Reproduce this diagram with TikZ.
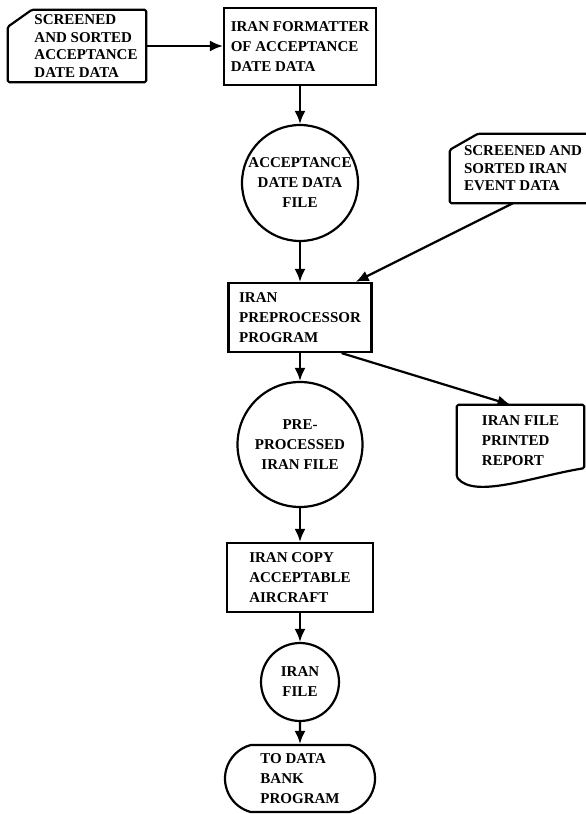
\documentclass[tikz,border=0pt]{standalone}
\usepackage{fontspec}
\setmainfont{Liberation Serif}
\usetikzlibrary{arrows.meta,shapes.misc}
\begin{document}
\begin{tikzpicture}[x=1pt,y=-1pt,
  every node/.style={font=\fontsize{15}{20}\selectfont\bfseries, inner sep=0pt},
  tight/.style={font=\fontsize{15}{17.5}\selectfont\bfseries},
  flow/.style={line width=2.2pt},
  arr/.style={flow,-{Latex[length=13pt,width=11pt]}},
  outline/.style={flow,line join=round,rounded corners=1.5pt},
  proc/.style={draw,flow,rectangle,align=left},
  store/.style={draw,flow,circle,align=center},
  plain/.style={rectangle,align=left},
  term/.style={draw,flow,rounded rectangle,rounded rectangle arc length=150,align=left}]

\clip (0,0) rectangle (586,814);

% input cards (outlines drawn below)
\node[plain,tight,minimum width=120pt,minimum height=72pt] (card1) at (86,46)
  {SCREENED\\AND SORTED\\ACCEPTANCE\\DATE DATA};
\node[plain,tight,minimum width=134pt,minimum height=69pt] (card2) at (523,168.5)
  {SCREENED AND\\SORTED IRAN\\EVENT DATA};

% main column
\node[proc,minimum width=152pt,minimum height=77pt] (box2) at (300,46.5)
  {IRAN FORMATTER\\OF ACCEPTANCE\\DATE DATA};
\node[store,minimum size=116pt] (circ1) at (300,183)
  {ACCEPTANCE\\DATE DATA\\FILE};
\node[proc,minimum width=143pt,minimum height=69pt] (box3) at (300,317.5)
  {IRAN\\PREPROCESSOR\\PROGRAM};
\node[store,minimum size=125pt] (circ2) at (300,444.5)
  {PRE-\\PROCESSED\\IRAN FILE};
\node[proc,minimum width=146pt,minimum height=69pt] (box4) at (300,577.5)
  {IRAN COPY\\ACCEPTABLE\\AIRCRAFT};
\node[store,minimum size=78pt] (circ3) at (300,682)
  {IRAN\\FILE};
\node[term,minimum width=150pt,minimum height=67pt] (term) at (300,778.5)
  {TO DATA\\BANK\\PROGRAM};

% printed report (outline drawn below)
\node[plain,minimum width=127pt,minimum height=72pt] (report) at (520.5,441)
  {IRAN FILE\\PRINTED\\REPORT};

% card outlines with clipped top-left corner
\draw[outline] ([xshift=-18pt]card1.south west)
  -- ([xshift=-18pt,yshift=-17pt]card1.north west)
  -- ([xshift=6pt]card1.north west) -- (card1.north east)
  -- (card1.south east) -- cycle;
\draw[outline] ([xshift=-6pt]card2.south west)
  -- ([xshift=-6pt,yshift=-16pt]card2.north west)
  -- ([xshift=22pt]card2.north west) -- (card2.north east)
  -- (card2.south east) -- cycle;

% document outline with wavy bottom
\draw[outline] (report.south west) -- (report.north west) -- (report.north east)
  -- ([yshift=9pt]report.south east)
  .. controls +(-50pt,-8pt) and +(18pt,-22pt) .. (report.south west) -- cycle;

% connectors
\draw[arr] (card1.east) -- (card1.east -| box2.west);
\draw[arr] (box2) -- (circ1);
\draw[arr] (circ1) -- (box3);
\draw[arr] ([xshift=-10pt]card2.south) -- ([xshift=-17pt]box3.north east);
\draw[arr] (box3) -- (circ2);
\draw[arr] ([xshift=-31pt]box3.south east) -- ([xshift=-10pt]report.north);
\draw[arr] (circ2) -- (box4);
\draw[arr] (box4) -- (circ3);
\draw[arr] (circ3) -- (term);
\end{tikzpicture}
\end{document}
